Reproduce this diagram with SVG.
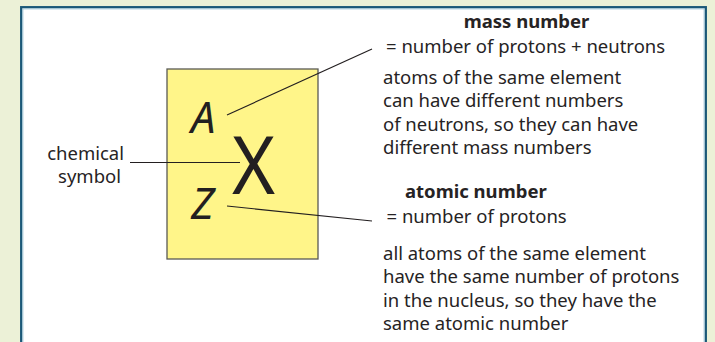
<svg xmlns="http://www.w3.org/2000/svg" width="715" height="342" viewBox="0 0 715 342">
  <style>
    .t { font-family: "Noto Sans", "Open Sans", sans-serif; font-size: 18.5px; fill: #262324; }
    .b { font-weight: bold; }
    .it { font-family: "Noto Sans", "Open Sans", sans-serif; font-style: italic; fill: #231f20; }
    .sym { font-family: "Noto Sans", "Open Sans", sans-serif; fill: #231f20; }
    .ln { stroke: #231f20; stroke-width: 1.2; fill: none; }
  </style>
  <rect x="0" y="0" width="715" height="342" fill="#ecf1d7"/>
  <g id="frame">
    <rect x="21.2" y="7.2" width="684.6" height="360" fill="#ffffff" stroke="#1b5878" stroke-width="2.3"/>
    <rect x="22.9" y="8.9" width="681.2" height="360" fill="none" stroke="#9cc3d3" stroke-width="0.9"/>
  </g>
  <g id="element-box">
    <rect x="167" y="69" width="151" height="190" fill="#fff589" stroke="#5a5a55" stroke-width="1.3"/>
    <text class="it" x="191" y="133" font-size="43.5">A</text>
    <text class="it" x="191" y="219" font-size="43.5">Z</text>
    <text class="sym" x="0" y="0" font-size="80" text-anchor="middle" transform="translate(253.5 194) scale(0.92 1)">X</text>
  </g>
  <g id="connectors">
    <line class="ln" x1="130" y1="162.5" x2="240" y2="162.5"/>
    <line class="ln" x1="227" y1="115" x2="372" y2="49"/>
    <line class="ln" x1="227" y1="206" x2="372" y2="221"/>
  </g>
  <g id="chemical-symbol-label">
    <text class="t" x="124" y="160" text-anchor="end">chemical</text>
    <text class="t" x="121" y="183" text-anchor="end">symbol</text>
  </g>
  <g id="mass-number">
    <text class="t b" x="526.5" y="28" text-anchor="middle">mass number</text>
    <text class="t" x="386" y="53">= number of protons + neutrons</text>
    <text class="t" x="383" y="84">atoms of the same element</text>
    <text class="t" x="383" y="107.3">can have different numbers</text>
    <text class="t" x="383" y="130.6">of neutrons, so they can have</text>
    <text class="t" x="383" y="154">different mass numbers</text>
  </g>
  <g id="atomic-number">
    <text class="t b" x="405" y="197.5">atomic number</text>
    <text class="t" x="386.5" y="222.5">= number of protons</text>
    <text class="t" x="383" y="260">all atoms of the same element</text>
    <text class="t" x="383" y="283.3">have the same number of protons</text>
    <text class="t" x="383" y="306.6">in the nucleus, so they have the</text>
    <text class="t" x="383" y="330">same atomic number</text>
  </g>
</svg>
